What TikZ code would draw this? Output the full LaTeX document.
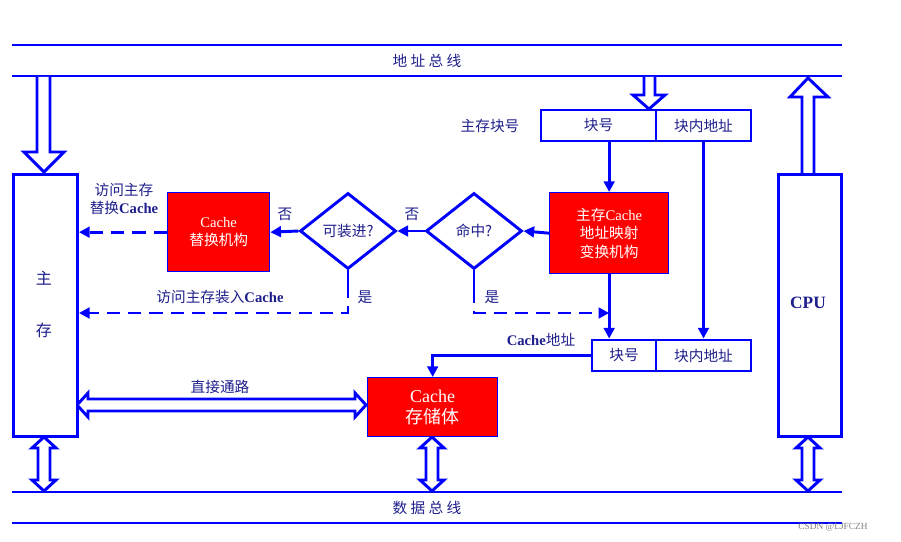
\documentclass[tikz,border=0pt]{standalone}
\usepackage{fontspec}
\setmainfont{Liberation Serif}
\newfontfamily\cjk{Noto Sans CJK SC}
\usetikzlibrary{shapes.geometric,arrows.meta}
\definecolor{lb}{RGB}{0,0,255}
\definecolor{tx}{RGB}{30,30,140}
\begin{document}
\begin{tikzpicture}[x=0.75pt,y=-0.75pt,
  ln/.style={draw=lb,line width=2.2pt},
  ar/.style={ln,-{Triangle[length=8pt,width=8pt]}},
  da/.style={ar,dash pattern=on 10pt off 6pt},
  hol/.style={draw=lb,line width=2.2pt,fill=white,line join=miter},
  box/.style={draw=lb,line width=2.2pt,fill=white,anchor=north west,inner sep=0pt},
  red/.style={draw=lb,line width=1pt,fill=red,text=white,align=center,inner sep=0pt,anchor=north west,font=\fontsize{11}{14}\selectfont},
  dia/.style={diamond,draw=lb,line width=2.2pt,fill=white,inner sep=0pt,minimum width=96\pgflinewidth,text=tx,font=\cjk\fontsize{11}{13}\selectfont},
  lab/.style={text=tx,font=\fontsize{11}{13}\selectfont,align=center,inner sep=1pt},
  cell/.style={draw=lb,line width=2.2pt,inner sep=0pt,minimum height=31*0.75pt,text=tx,font=\cjk\fontsize{11}{13}\selectfont}]
\useasboundingbox (0,0) rectangle (901,542);
% buses
\draw[ln] (12,45) -- (842,45);
\draw[ln] (12,76) -- (842,76);
\draw[ln] (12,492) -- (842,492);
\draw[ln] (12,523) -- (842,523);
\node[lab,font=\cjk\fontsize{11}{13}\selectfont] (ab) at (427,61) {地\ 址\ 总\ 线};
\node[lab,font=\cjk\fontsize{11}{13}\selectfont] (db) at (427,508) {数\ 据\ 总\ 线};
% hollow arrows
\draw[hol] (37,77)--(37,152)--(24,152)--(44,172)--(64,152)--(50,152)--(50,77);
\draw[hol] (802,173)--(802,97)--(790,97)--(808,78)--(828,97)--(814,97)--(814,173);
\draw[hol] (644,77)--(644,95)--(633,95)--(649,109)--(665,95)--(655,95)--(655,77);
\foreach \x in {44,808,432}{
 \draw[hol] (\x-6,448)--(\x-12,448)--(\x,437)--(\x+12,448)--(\x+6,448)--(\x+6,480)--(\x+12,480)--(\x,491)--(\x-12,480)--(\x-6,480)--cycle;}
\draw[hol] (88,399)--(88,393)--(77,405)--(88,417)--(88,411)--(355,411)--(355,417)--(366,405)--(355,393)--(355,399)--cycle;
% main memory and CPU
\node[box,minimum width=64*0.75pt,minimum height=262*0.75pt] (mem) at (12,173) {};
\node[lab,font=\cjk\fontsize{12}{14}\selectfont] (m1) at (44,278) {主};
\node[lab,font=\cjk\fontsize{12}{14}\selectfont] (m2) at (44,330) {存};
\node[box,minimum width=63*0.75pt,minimum height=262*0.75pt] (cpu) at (777,173) {};
\node[lab,font=\bfseries\fontsize{13}{15}\selectfont] (cpul) at (808,303) {CPU};
% address registers
\node[cell,minimum width=115*0.75pt] (ab1) at (598.5,125.5) {块号};
\node[cell,minimum width=95*0.75pt] (ab2) at (703.5,125.5) {块内地址};
\node[lab,font=\cjk\fontsize{11}{13}\selectfont] (abl) at (490,126) {主存块号};
\node[cell,minimum width=64*0.75pt] (cb1) at (624,355.5) {块号};
\node[cell,minimum width=95*0.75pt] (cb2) at (703.5,355.5) {块内地址};
\node[lab] (cbl) at (541,340) {\textbf{Cache}{\cjk 地址}};
% red boxes
\node[red,minimum width=119*0.75pt,minimum height=81*0.75pt] (map) at (549,192) {{\cjk 主存}Cache\\{\cjk 地址映射}\\{\cjk 变换机构}};
\node[red,minimum width=102*0.75pt,minimum height=79*0.75pt] (rep) at (167,192) {Cache\\{\cjk 替换机构}};
\node[red,minimum width=130*0.75pt,minimum height=59*0.75pt,font=\fontsize{13.5}{16}\selectfont] (sto) at (367,377) {Cache\\{\cjk 存储体}};
% diamonds
\node[dia,minimum width=96*0.75pt,minimum height=76*0.75pt] (hit) at (474,231) {命中?};
\node[dia,minimum width=96*0.75pt,minimum height=76*0.75pt] (fit) at (348,231) {可装进?};
% connectors
\draw[ar] (ab1.south -| map.north) -- (map.north);
\draw[ar] (map.west) -- (hit.east);
\draw[ar] (hit.west) -- (fit.east);
\draw[ar] (fit.west) -- (rep.east);
\draw[da] (rep.west) -- (mem.east |- rep.west);
\node[lab,font=\cjk\fontsize{11}{13}\selectfont] (n1) at (412,214) {否};
\node[lab,font=\cjk\fontsize{11}{13}\selectfont] (n2) at (285,214) {否};
\node[lab] (l1) at (124,199) {{\cjk 访问主存}\\{\cjk 替换}\textbf{Cache}};
\coordinate (f1) at (348,285);
\coordinate (f2) at (348,313);
\draw[ln] (fit.south) -- (f1);
\draw[da] (f1) -- (f2) -- (mem.east |- f2);
\node[lab,font=\cjk\fontsize{11}{13}\selectfont] (y1) at (365,297) {是};
\node[lab] (l2) at (220,297) {{\cjk 访问主存装入}\textbf{Cache}};
\coordinate (h1) at (474,290);
\coordinate (h2) at (474,313);
\draw[ln] (hit.south) -- (h1);
\draw[da] (h1) -- (h2) -- (h2 -| map.south);
\node[lab,font=\cjk\fontsize{11}{13}\selectfont] (y2) at (492,297) {是};
\draw[ar] (map.south) -- (map.south |- cb1.north);
\draw[ar] (ab2.south) -- (cb2.north);
\draw[ar] (cb1.west) -| (sto.north);
\node[lab,font=\cjk\fontsize{11}{13}\selectfont] (l3) at (220,387) {直接通路};
\node[text=gray,font=\fontsize{7}{8}\selectfont] (wm) at (833,527) {CSDN @LJFCZH};
\end{tikzpicture}
\end{document}
